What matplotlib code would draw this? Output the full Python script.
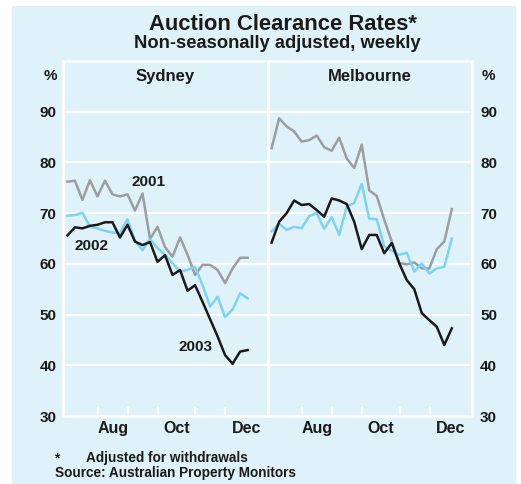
import numpy as np
import matplotlib.pyplot as plt
from matplotlib.patches import Rectangle

plt.rcParams['font.family'] = ['Liberation Sans', 'DejaVu Sans']
plt.rcParams['font.weight'] = 'bold'

# Weekly auction clearance rates (%), Jul-Dec
weeks = np.arange(25) + 0.55

syd_2001 = [76.2, 76.4, 72.6, 76.5, 73.3, 76.4, 73.7, 73.3, 73.7, 70.5, 73.9, 64.9, 67.3,
            63.3, 61.4, 65.2, 61.8, 57.8, 59.8, 59.8, 58.8, 56.2, 59.1, 61.2, 61.2]
syd_2002 = [69.5, 69.6, 70.1, 67.3, 67.0, 66.5, 66.2, 66.0, 68.8, 64.5, 62.7, 64.9, 63.1,
            61.8, 60.1, 58.5, 58.8, 59.4, 55.8, 51.6, 53.5, 49.5, 51.0, 54.2, 53.2]
syd_2003 = [65.6, 67.2, 67.0, 67.5, 67.7, 68.2, 68.2, 65.2, 67.7, 64.4, 63.7, 64.3, 60.4,
            61.7, 57.8, 58.8, 54.7, 55.8, 52.5, 49.1, 45.7, 42.0, 40.3, 42.7, 43.0]
mel_2001 = [82.8, 88.7, 87.1, 86.1, 84.1, 84.4, 85.3, 83.0, 82.3, 84.9, 80.8, 78.9, 83.5,
            74.5, 73.4, 68.7, 64.4, 60.2, 59.9, 60.3, 59.1, 59.1, 62.9, 64.4, 70.8]
mel_2002 = [66.4, 67.9, 66.7, 67.3, 67.0, 69.4, 70.0, 66.9, 69.2, 65.7, 71.3, 72.0, 75.8,
            68.9, 68.8, 63.4, 62.6, 61.8, 62.2, 58.5, 60.1, 58.1, 59.1, 59.4, 65.0]
mel_2003 = [64.2, 68.3, 70.0, 72.5, 71.6, 71.8, 70.6, 69.3, 72.9, 72.5, 71.8, 68.3, 62.9,
            65.7, 65.7, 62.1, 64.1, 60.1, 56.8, 55.0, 50.3, 48.9, 47.6, 44.0, 47.3]

month_bounds = [4.6, 8.6, 12.6, 17.6, 21.6]
month_pos = [6.6, 15.1, 24.4]
month_labels = ['Aug', 'Oct', 'Dec']
yticks = [30, 40, 50, 60, 70, 80, 90]

bg = '#dff2fa'
txt = '#1a1a1a'
c01, c02, c03 = '#9b9ea1', '#7ed3f4', '#1a1a1a'

fig = plt.figure(figsize=(5.21, 4.84), dpi=100)
fig.patch.set_facecolor('white')
fig.patches.append(Rectangle((12 / 521, 0), 503 / 521, 1 - 6 / 484,
                             transform=fig.transFigure, color=bg, zorder=-10))

L, M, R = 63.3 / 521, 267.5 / 521, 471.7 / 521
B, T = 1 - 416 / 484, 1 - 61 / 484
ax1 = fig.add_axes([L, B, M - L, T - B])
ax2 = fig.add_axes([M, B, R - M, T - B])

panels = [(ax1, 'Sydney', syd_2001, syd_2002, syd_2003),
          (ax2, 'Melbourne', mel_2001, mel_2002, mel_2003)]

for ax, name, s1, s2, s3 in panels:
    ax.set_facecolor(bg)
    ax.set_xlim(0, 27.2)
    ax.set_ylim(30, 100)
    for y in yticks[1:]:
        ax.axhline(y, color='white', lw=1.6, zorder=1)
    ax.plot(weeks, s1, color=c01, lw=1.8, zorder=3)
    ax.plot(weeks, s2, color=c02, lw=1.8, zorder=3)
    ax.plot(weeks, s3, color=c03, lw=1.8, zorder=4)
    for sp in ax.spines.values():
        sp.set_color('white')
        sp.set_linewidth(1.8)
    ax.set_xticks(month_bounds)
    ax.set_xticklabels([])
    ax.set_xticks(month_pos, minor=True)
    ax.set_xticklabels(month_labels, minor=True, fontsize=11.5, fontweight='bold', color=txt)
    ax.tick_params(axis='x', which='major', direction='in', length=6.5, width=1.5, color='white')
    ax.tick_params(axis='x', which='minor', length=0, pad=3.5)
    ax.set_yticks(yticks)
    ax.set_yticklabels([str(v) for v in yticks], fontsize=11, fontweight='bold', color=txt)
    ax.text(0.5, 0.955, name, transform=ax.transAxes, ha='center', va='center',
            fontsize=12, fontweight='bold', color=txt)

ax1.tick_params(axis='y', length=0, pad=5, left=True, right=False,
                labelleft=True, labelright=False)
ax2.tick_params(axis='y', length=0, pad=6, left=False, right=False,
                labelleft=False, labelright=True)

# Year labels on Sydney panel
ax1.text(11.3, 76.2, '2001', ha='center', va='center', fontsize=11, fontweight='bold', color=txt)
ax1.text(3.8, 63.5, '2002', ha='center', va='center', fontsize=11, fontweight='bold', color=txt)
ax1.text(17.6, 43.7, '2003', ha='center', va='center', fontsize=11, fontweight='bold', color=txt)

fig.text(50.7 / 521, 1 - 76 / 484, '%', ha='center', va='center', fontsize=11, color=txt)
fig.text(488.3 / 521, 1 - 76 / 484, '%', ha='center', va='center', fontsize=11, color=txt)

fig.text(283 / 521, 1 - 24 / 484, 'Auction Clearance Rates*', ha='center', va='center',
         fontsize=15.8, fontweight='bold', color=txt)
fig.text(277 / 521, 1 - 44 / 484, 'Non-seasonally adjusted, weekly', ha='center', va='center',
         fontsize=13.2, fontweight='bold', color=txt)

fig.text(55 / 521, 1 - 458 / 484, '*', ha='left', va='center', fontsize=9.8, color=txt)
fig.text(86 / 521, 1 - 458 / 484, 'Adjusted for withdrawals', ha='left', va='center',
         fontsize=9.8, color=txt)
fig.text(55 / 521, 1 - 473 / 484, 'Source: Australian Property Monitors', ha='left', va='center',
         fontsize=9.8, color=txt)

fig.savefig('out.png', dpi=100, facecolor=fig.get_facecolor())
